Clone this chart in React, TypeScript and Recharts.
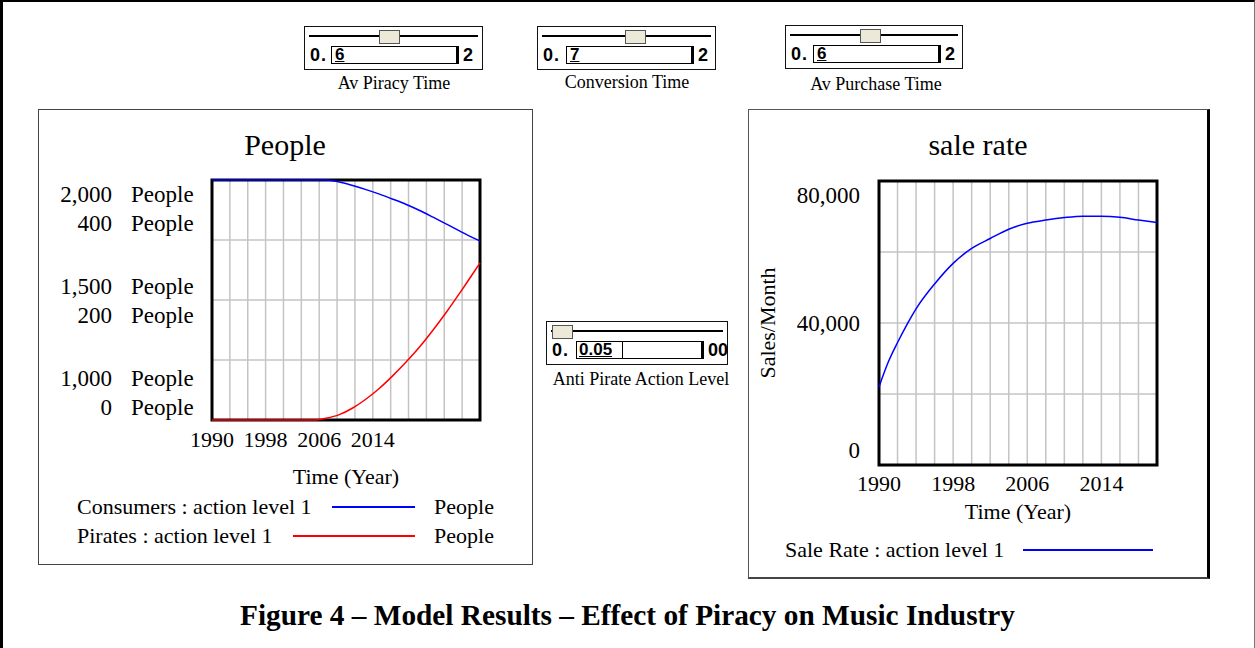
import React from "react";
import { CartesianGrid, Line, LineChart, ReferenceArea, XAxis, YAxis } from "recharts";

// People chart (Consumers on 1,000-2,000 scale, Pirates on 0-400 scale)
const peopleYears = [1990, 2000, 2005, 2006, 2007, 2009, 2011, 2013, 2015, 2017, 2019, 2021, 2023, 2025, 2027, 2029, 2030];
const consumers = [2000, 2000, 2000, 2000, 2000, 1992, 1977, 1960, 1941, 1920, 1898, 1873, 1845, 1816, 1787, 1759, 1746];
const pirates = [0, 0, 0, 1, 3, 9, 20, 35, 53, 74, 97, 122, 150, 180, 212, 245, 262];

// sale rate chart
const saleYears = [1990, 1991, 1992, 1993, 1994, 1996, 1998, 2000, 2002, 2004, 2006, 2008, 2010, 2012, 2014, 2016, 2018, 2020];
const saleRate = [22000, 29000, 34500, 39500, 44000, 51000, 56800, 61000, 63800, 66400, 68100, 69000, 69700, 70100, 70100, 69800, 69000, 68300];

const yearLabels = [1990, 1998, 2006, 2014];
const peopleGridYears = Array.from({ length: 16 }, (_, k) => 1990 + (k * 40) / 15);
const saleGridYears = Array.from({ length: 16 }, (_, k) => 1990 + k * 2);
const consumerTicks = [1000, 1250, 1500, 1750, 2000];
const consumerLabels = [1000, 1500, 2000];
const pirateLabels = [0, 200, 400];
const saleTicks = [0, 20000, 40000, 60000, 80000];
const saleLabels = [0, 40000, 80000];

const peopleNames = ["Consumers : action level 1", "Pirates : action level 1"];
const peopleColors = ["#0000ff", "#ff0000"];
const saleName = "Sale Rate : action level 1";

const peopleData = peopleYears.map((year, i) => ({ year, consumers: consumers[i], pirates: pirates[i] }));
const saleData = saleYears.map((year, i) => ({ year, sale: saleRate[i] }));

const fmt = (v: number) => v.toLocaleString("en-US");
const serif = '"Liberation Serif", "Times New Roman", serif';

const YearTick = (dy: number) => ({ x, y, payload }: any) => {
  const hit = yearLabels.find((l) => Math.abs(l - payload.value) < 0.01);
  if (hit === undefined) return <g />;
  return (
    <text x={x} y={y + dy} textAnchor="middle" fontSize={22} fill="#000" fontFamily={serif}>
      {hit}
    </text>
  );
};

const PeopleTick = ({ x, y, payload }: any) => {
  const i = consumerLabels.indexOf(payload.value);
  if (i < 0) return <g />;
  const shift = [-56, -28, 0][i];
  const y1 = y + shift + 22;
  const y2 = y + shift + 51;
  return (
    <g fontSize={23} fill="#000" fontFamily={serif}>
      <text x={x - 100} y={y1} textAnchor="end">{fmt(consumerLabels[i])}</text>
      <text x={x - 81} y={y1}>People</text>
      <text x={x - 100} y={y2} textAnchor="end">{fmt(pirateLabels[i])}</text>
      <text x={x - 81} y={y2}>People</text>
    </g>
  );
};

const SaleTick = ({ x, y, payload }: any) => {
  const i = saleLabels.indexOf(payload.value);
  if (i < 0) return <g />;
  const shift = [-15, 0, 14][i];
  return (
    <text x={x - 19} y={y + shift + 8} textAnchor="end" fontSize={23} fill="#000" fontFamily={serif}>
      {fmt(saleLabels[i])}
    </text>
  );
};

const TimeLabel = (dy: number) => (props: any) => {
  const vb = props.viewBox;
  return (
    <text x={vb.x + vb.width / 2} y={vb.y + dy} textAnchor="middle" fontSize={22} fill="#000" fontFamily={serif}>
      Time (Year)
    </text>
  );
};

const SalesMonthLabel = (props: any) => {
  const vb = props.viewBox;
  const cx = vb.x + 19;
  const cy = vb.y + vb.height / 2;
  return (
    <text x={cx} y={cy} transform={`rotate(-90 ${cx} ${cy})`} textAnchor="middle" dominantBaseline="central" fontSize={22} fill="#000" fontFamily={serif}>
      Sales/Month
    </text>
  );
};

const Slider = ({ left, top, width, thumb, boxLeft, boxW, value, max, label, labelX, labelY, split }: any) => (
  <>
    <div style={{ position: "absolute", left, top, width, height: 44, border: "1px solid #111", boxSizing: "border-box" }}>
      <div style={{ position: "absolute", left: 4, top: 8, width: width - 10, height: 2, background: "#000" }} />
      <div style={{ position: "absolute", left: thumb, top: 3, width: 19, height: 12, background: "#ece9d8", border: "1px solid #555" }} />
      <div style={{ position: "absolute", left: 5, top: 18, fontFamily: '"Liberation Sans", sans-serif', fontWeight: 700, fontSize: 18, letterSpacing: 1 }}>0.</div>
      <div style={{ position: "absolute", left: boxLeft, top: 19, width: boxW, height: 18, border: "1px solid #000", borderRight: "3px solid #000", boxSizing: "border-box" }}>
        {split ? (
          <div style={{ position: "absolute", left: 0, top: -1, width: split, height: 18, borderRight: "1px solid #000", fontFamily: '"Liberation Sans", sans-serif', fontWeight: 700, fontSize: 17, lineHeight: "18px", paddingLeft: 2, boxSizing: "border-box", textDecoration: "underline" }}>
            {value}
          </div>
        ) : (
          <div style={{ position: "absolute", left: 3, top: -1, fontFamily: '"Liberation Sans", sans-serif', fontWeight: 700, fontSize: 17, lineHeight: "18px", textDecoration: "underline" }}>{value}</div>
        )}
      </div>
      <div style={{ position: "absolute", left: boxLeft + boxW + 4, top: 18, fontFamily: '"Liberation Sans", sans-serif', fontWeight: 700, fontSize: 18 }}>{max}</div>
    </div>
    <div style={{ position: "absolute", left: labelX - 150, top: labelY - 11, width: 300, textAlign: "center", fontSize: 18, lineHeight: "22px", fontFamily: serif }}>
      {label}
    </div>
  </>
);

export default function App() {
  return (
    <div style={{ position: "absolute", left: 0, top: 0, width: 1255, height: 648, background: "#fff", fontFamily: serif, color: "#000", overflow: "hidden" }}>
      <div style={{ position: "absolute", left: 0, top: 0, width: 1255, height: 660, borderTop: "2px solid #000", borderLeft: "3px solid #000", borderRight: "1px solid #777", boxSizing: "border-box" }} />

      <Slider left={304} top={26} width={179} thumb={74} boxLeft={26} boxW={128} value="6" max="2" label="Av Piracy Time" labelX={394} labelY={83} />
      <Slider left={537} top={26} width={179} thumb={87} boxLeft={28} boxW={128} value="7" max="2" label="Conversion Time" labelX={627} labelY={82} />
      <Slider left={785} top={25} width={178} thumb={74} boxLeft={27} boxW={128} value="6" max="2" label="Av Purchase Time" labelX={876} labelY={84} />
      <Slider left={546} top={321} width={182} thumb={5} boxLeft={29} boxW={128} value="0.05" max="00" split={46} label="Anti Pirate Action Level" labelX={641} labelY={379} />

      {/* People panel */}
      <div style={{ position: "absolute", left: 38, top: 109, width: 495, height: 456, border: "1px solid #444", boxSizing: "border-box" }} />
      <div style={{ position: "absolute", left: 38, top: 130, width: 494, textAlign: "center", fontSize: 30, lineHeight: "30px" }}>People</div>
      <div style={{ position: "absolute", left: 38, top: 109 }}>
        <LineChart width={494} height={456} data={peopleData} margin={{ top: 71, right: 52, bottom: 0, left: 0 }}>
          <CartesianGrid yAxisId="c" stroke="#c4c4c4" strokeWidth={1.5} />
          <XAxis dataKey="year" type="number" domain={[1990, 2030]} ticks={peopleGridYears} interval={0} height={145} axisLine={false} tickLine={false} tickSize={0} tickMargin={0} tick={YearTick(27)} label={TimeLabel(64)} />
          <YAxis yAxisId="c" domain={[1000, 2000]} ticks={consumerTicks} interval={0} width={174} axisLine={false} tickLine={false} tickSize={0} tickMargin={0} tick={PeopleTick} />
          <YAxis yAxisId="p" domain={[0, 400]} hide />
          <ReferenceArea yAxisId="c" x1={1990} x2={2030} y1={1000} y2={2000} fill="none" stroke="#000" strokeWidth={3} />
          <Line yAxisId="c" type="monotone" dataKey="consumers" stroke={peopleColors[0]} strokeWidth={1.5} dot={false} isAnimationActive={false} />
          <Line yAxisId="p" type="monotone" dataKey="pirates" stroke={peopleColors[1]} strokeWidth={1.5} dot={false} isAnimationActive={false} />
        </LineChart>
      </div>
      <div style={{ position: "absolute", left: 77, top: 492, width: 417, fontSize: 22, lineHeight: "29px" }}>
        {peopleNames.map((name, i) => (
          <div key={name} style={{ display: "flex", alignItems: "center", height: 29 }}>
            <span style={{ whiteSpace: "nowrap" }}>{name}</span>
            <span style={{ flex: 1, height: 2, background: peopleColors[i], margin: "0 19px 0 20px" }} />
            <span>People</span>
          </div>
        ))}
      </div>

      {/* sale rate panel */}
      <div style={{ position: "absolute", left: 748, top: 109, width: 462, height: 470, border: "1px solid #555", borderRight: "3px solid #000", borderBottom: "2px solid #444", boxSizing: "border-box" }} />
      <div style={{ position: "absolute", left: 748, top: 130, width: 460, textAlign: "center", fontSize: 30, lineHeight: "30px" }}>sale rate</div>
      <div style={{ position: "absolute", left: 748, top: 109 }}>
        <LineChart width={462} height={470} data={saleData} margin={{ top: 72, right: 53, bottom: 0, left: 0 }}>
          <CartesianGrid stroke="#c4c4c4" strokeWidth={1.5} />
          <XAxis dataKey="year" type="number" domain={[1990, 2020]} ticks={saleGridYears} interval={0} height={114} axisLine={false} tickLine={false} tickSize={0} tickMargin={0} tick={YearTick(26)} label={TimeLabel(54)} />
          <YAxis domain={[0, 80000]} ticks={saleTicks} interval={0} width={131} axisLine={false} tickLine={false} tickSize={0} tickMargin={0} tick={SaleTick} label={SalesMonthLabel} />
          <ReferenceArea x1={1990} x2={2020} y1={0} y2={80000} fill="none" stroke="#000" strokeWidth={3} />
          <Line type="monotone" dataKey="sale" stroke="#0000ff" strokeWidth={1.5} dot={false} isAnimationActive={false} />
        </LineChart>
      </div>
      <div style={{ position: "absolute", left: 785, top: 535, width: 368, fontSize: 22, lineHeight: "29px", display: "flex", alignItems: "center", height: 29 }}>
        <span style={{ whiteSpace: "nowrap" }}>{saleName}</span>
        <span style={{ flex: 1, height: 2, background: "#0000ff", marginLeft: 19 }} />
      </div>

      <div style={{ position: "absolute", left: 0, top: 601, width: 1255, textAlign: "center", fontSize: 29.3, lineHeight: "29px", fontWeight: 700 }}>
        Figure 4 – Model Results – Effect of Piracy on Music Industry
      </div>
    </div>
  );
}
